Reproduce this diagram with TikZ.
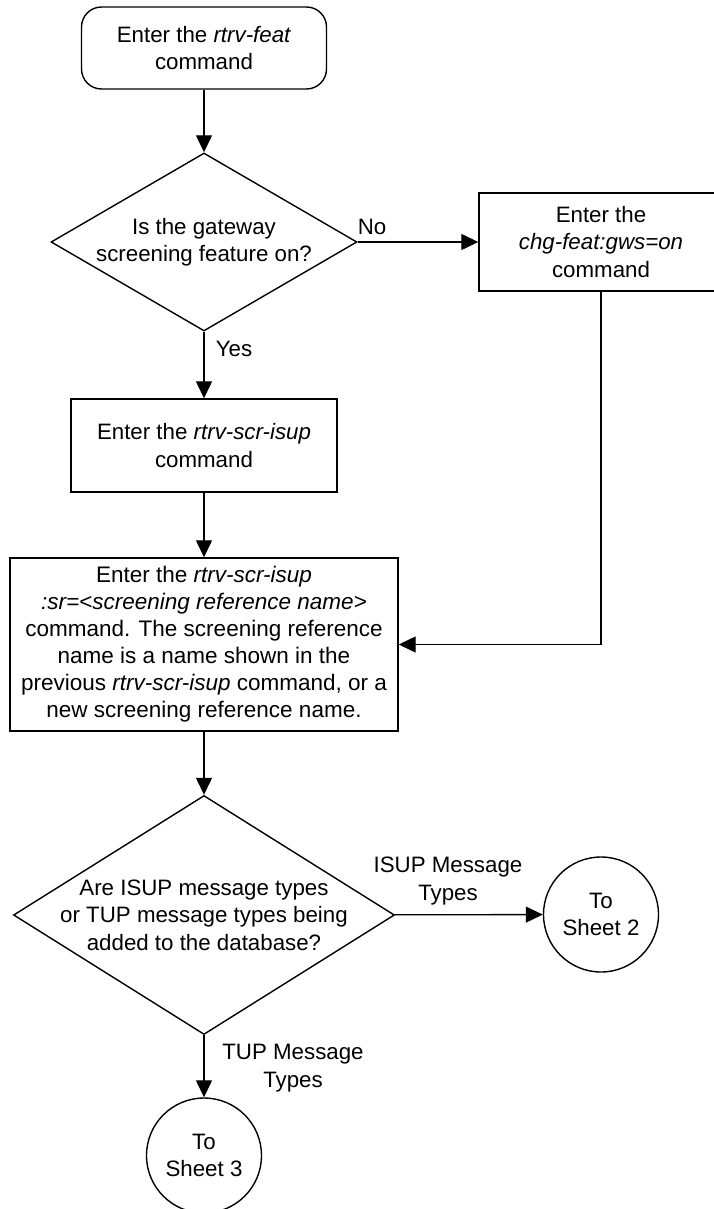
\documentclass[tikz,border=0pt]{standalone}
\usepackage{fontspec}
\setmainfont{Liberation Sans}
\usetikzlibrary{arrows.meta,shapes.geometric}
\begin{document}
\begin{tikzpicture}[x=1pt,y=-1pt,
  font=\fontsize{22.3pt}{27.5pt}\selectfont,
  term/.style={draw,line width=1.4pt,rounded corners=20pt,align=center,inner sep=0pt},
  box/.style={draw,line width=1.4pt,align=center,inner sep=0pt},
  dia/.style={draw,line width=1.4pt,diamond,inner sep=0pt},
  txt/.style={align=center,inner sep=0pt},
  conn/.style={draw,line width=1.4pt,circle,align=center,inner sep=0pt,minimum size=115pt},
  lbl/.style={align=center,inner sep=0pt},
  arr/.style={line width=1.3pt,-{Triangle[length=17pt,width=16pt]}}]
\useasboundingbox (0,0) rectangle (713,1209);

\node[term,minimum width=245pt,minimum height=82pt] (start) at (204,48) {Enter the \textit{rtrv-feat}\\command};
\node[dia,minimum width=306pt,minimum height=178pt] (d1) at (204,242) {};
\node[txt] (d1t) at (204,242) {Is the gateway\\screening feature on?};
\node[box,minimum width=244pt,minimum height=98pt] (b2) at (601,242) {Enter the\\\textit{chg-feat:gws=on}\\command};
\node[box,minimum width=266pt,minimum height=93pt] (b1) at (204,445.5) {Enter the \textit{rtrv-scr-isup}\\command};
\node[box,minimum width=388pt,minimum height=173pt,font=\fontsize{22.5pt}{27pt}\selectfont] (b3) at (204,644.5) {Enter the \textit{rtrv-scr-isup}\\\textit{:sr=<screening reference name>}\\command. The screening reference\\name is a name shown in the\\previous \textit{rtrv-scr-isup} command, or a\\new screening reference name.};
\node[dia,minimum width=381pt,minimum height=239pt] (d2) at (204,915) {};
\node[txt] (d2t) at (204,915) {Are ISUP message types\\or TUP message types being\\added to the database?};
\node[conn] (c1) at (601,914.5) {To\\Sheet 2};
\node[conn] (c2) at (204,1155.5) {To\\Sheet 3};

\node[lbl] (no) at (372,227) {No};
\node[lbl] (yes) at (234,349) {Yes};
\node[lbl] (isup) at (448,881) {ISUP Message\\Types};
\node[lbl] (tup) at (293,1068) {TUP Message\\Types};

\draw[arr] (start) -- (d1);
\draw[arr] (d1) -- (b2);
\draw[arr] (d1) -- (b1);
\draw[arr] (b1) -- (b3);
\draw[arr] (b2.south) |- (b3.east);
\draw[arr] (b3) -- (d2);
\draw[arr] (d2) -- (c1);
\draw[arr] (d2) -- (c2);
\end{tikzpicture}
\end{document}
